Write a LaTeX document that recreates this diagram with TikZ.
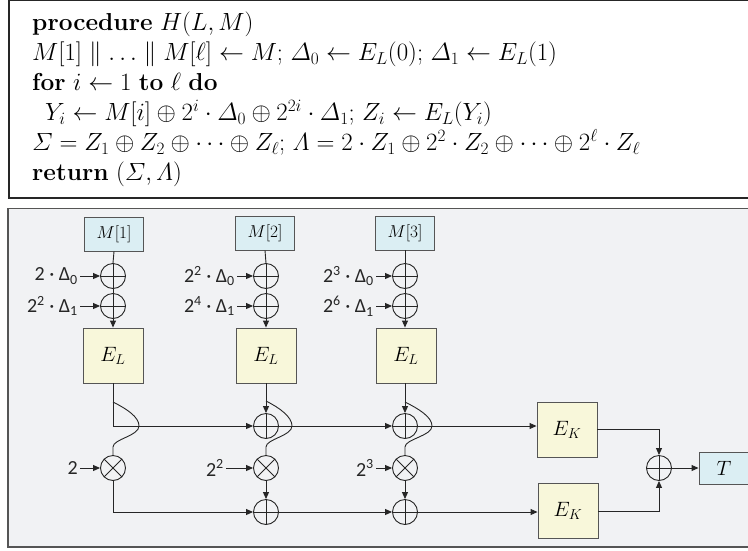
\documentclass[tikz,border=0pt]{standalone}
\usepackage{amsmath}
\usepackage{fontspec}
\newfontfamily\carlito{Carlito}
\usetikzlibrary{arrows.meta}
\definecolor{bgpanel}{HTML}{F1F2F4}
\definecolor{mblue}{HTML}{DBEEF3}
\definecolor{eyellow}{HTML}{F8F7DA}
\definecolor{linec}{HTML}{262626}
\definecolor{boxline}{HTML}{555555}
\begin{document}
\begin{tikzpicture}[x=1pt,y=-1pt,
  wire/.style={draw=linec,line width=0.9pt},
  arr/.style={wire,-{Triangle[length=7pt,width=6pt]}},
  mbox/.style={draw=boxline,line width=0.9pt,fill=mblue,minimum width=59pt,minimum height=34pt,inner sep=0pt,font=\fontsize{18}{18}\selectfont},
  ebox/.style={draw=boxline,line width=0.9pt,fill=eyellow,minimum width=60pt,minimum height=55pt,inner sep=0pt,font=\fontsize{22}{22}\selectfont},
  xorc/.style={circle,draw=linec,line width=0.9pt,minimum size=25pt,inner sep=0pt,path picture={\draw[linec,line width=0.9pt] (path picture bounding box.north) -- (path picture bounding box.south) (path picture bounding box.west) -- (path picture bounding box.east);}},
  mulc/.style={circle,draw=linec,line width=0.9pt,minimum size=25pt,inner sep=0pt,path picture={\draw[linec,line width=0.9pt] (path picture bounding box.north west) -- (path picture bounding box.south east) (path picture bounding box.south west) -- (path picture bounding box.north east);}},
  lab/.style={font=\carlito\fontsize{20}{20}\selectfont,inner ysep=0pt,inner xsep=2pt,anchor=east,text=linec},
  code/.style={anchor=north west,inner sep=0pt,align=left,font=\fontsize{24.5}{30}\selectfont},
]
\useasboundingbox (0,0) rectangle (748,550);
\clip (0,0) rectangle (748,550);
% frames
\draw[draw=black!85,line width=1.1pt,fill=white] (9,0.8) rectangle (748.2,198);
\draw[draw=boxline,line width=1.4pt,fill=bgpanel] (8,208.5) rectangle (748.2,547);

% algorithm
\node[code] (alg) at (32,11.5) {\textbf{procedure} $H(L,M)$\\
$M[1]\parallel\ldots\parallel M[\ell]\leftarrow M$; $\varDelta_0\leftarrow E_L(0)$; $\varDelta_1\leftarrow E_L(1)$\\
\textbf{for} $i\leftarrow 1$ \textbf{to} $\ell$ \textbf{do}\\
\hspace*{13pt}$Y_i\leftarrow M[i]\oplus 2^i\cdot\varDelta_0\oplus 2^{2i}\cdot\varDelta_1$; $Z_i\leftarrow E_L(Y_i)$\\
$\varSigma=Z_1\oplus Z_2\oplus\cdots\oplus Z_\ell$; $\varLambda=2\cdot Z_1\oplus 2^2\cdot Z_2\oplus\cdots\oplus 2^\ell\cdot Z_\ell$\\
\textbf{return} $(\varSigma,\varLambda)$};

% message blocks
\node[mbox] (m1) at (114,234) {$M[1]$};
\node[mbox] (m2) at (265,233) {$M[2]$};
\node[mbox] (m3) at (405,233) {$M[3]$};
% xor rows
\node[xorc] (a1) at (113,276) {};
\node[xorc] (b1) at (113,306) {};
\node[xorc] (a2) at (266,276) {};
\node[xorc] (b2) at (266,306) {};
\node[xorc] (a3) at (405,276) {};
\node[xorc] (b3) at (405,306) {};
% E_L
\node[ebox] (e1) at (113,355.5) {$E_L$};
\node[ebox] (e2) at (266,355.5) {$E_L$};
\node[ebox] (e3) at (406,355.5) {$E_L$};
% lower rows
\node[xorc] (c2) at (266,426) {};
\node[xorc] (c3) at (405,426) {};
\node[mulc] (x1) at (113,468) {};
\node[mulc] (x2) at (266,468) {};
\node[mulc] (x3) at (405,468) {};
\node[xorc] (d2) at (266,512) {};
\node[xorc] (d3) at (405,512) {};
\node[ebox] (k1) at (567,429.5) {$E_K$};
\node[ebox] (k2) at (568,511) {$E_K$};
\node[xorc] (f) at (659,468) {};
\node[mbox,minimum width=50pt,minimum height=32pt,font=\fontsize{22}{22}\selectfont] (t) at (724,468) {$T$};

% labels
\node[lab] (la1) at (80,276) {2 · Δ\textsubscript{0}};
\node[lab] (lb1) at (80,306) {2\textsuperscript{2} · Δ\textsubscript{1}};
\node[lab] (lx1) at (80,468) {2};
\node[lab] (la2) at (237,276) {2\textsuperscript{2} · Δ\textsubscript{0}};
\node[lab] (lb2) at (237,306) {2\textsuperscript{4} · Δ\textsubscript{1}};
\node[lab] (lx2) at (226,468) {2\textsuperscript{2}};
\node[lab] (la3) at (376,276) {2\textsuperscript{3} · Δ\textsubscript{0}};
\node[lab] (lb3) at (376,306) {2\textsuperscript{6} · Δ\textsubscript{1}};
\node[lab] (lx3) at (376,468) {2\textsuperscript{3}};

% column wiring
\foreach \i in {1,2,3}{
  \draw[wire] (m\i.south) -- (a\i.north);
  \draw[wire] (a\i.south) -- (b\i.north);
  \draw[arr] (b\i.south) -- (b\i.south |- e\i.north);
  \draw[arr] (la\i.east) -- (a\i.west);
  \draw[arr] (lb\i.east) -- (b\i.west);
  \draw[arr] (lx\i.east) -- (x\i.west);
}
% column 1
\draw[arr] (e1.south) |- (c2.west);
\coordinate (s1) at (113,402);
\coordinate (q1) at (113,447);
\draw[wire] (s1) .. controls (127,409) and (139,417) .. (139,426) .. controls (139,436) and (113,439) .. (q1) -- (x1.north);
\draw[arr] (x1.south) |- (d2.west);
% column 2
\draw[arr] (e2.south) -- (c2.north);
\coordinate (s2) at (266,401);
\coordinate (q2) at (266,447);
\draw[wire] (s2) .. controls (280,408) and (292,417) .. (292,426) .. controls (292,436) and (266,439) .. (q2) -- (x2.north);
\draw[arr] (x2.south) -- (d2.north);
\draw[arr] (c2.east) -- (c3.west);
\draw[arr] (d2.east) -- (d3.west);
% column 3
\draw[arr] (e3.south -| c3.north) -- (c3.north);
\coordinate (s3) at (405,402);
\coordinate (q3) at (405,447);
\draw[wire] (s3) .. controls (419,409) and (432,417) .. (432,426) .. controls (432,436) and (405,439) .. (q3) -- (x3.north);
\draw[arr] (x3.south) -- (d3.north);
\draw[arr] (c3.east) -- (c3.east -| k1.west);
\draw[arr] (d3.east) -- (d3.east -| k2.west);
% finalization
\draw[arr] (k1.east) -| (f.north);
\draw[arr] (k2.east) -| (f.south);
\draw[arr] (f.east) -- (t.west);
\end{tikzpicture}
\end{document}
